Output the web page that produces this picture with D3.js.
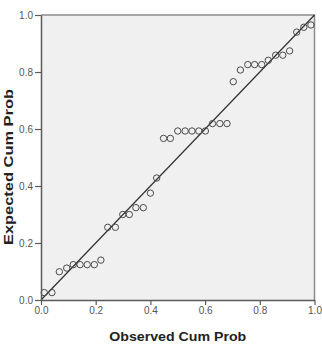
<!DOCTYPE html>
<html>
<head>
<meta charset="utf-8">
<script src="https://cdn.jsdelivr.net/npm/d3@7"></script>
<style>
  body { margin: 0; background: #fff; }
  svg { display: block; font-family: "Liberation Sans", Arial, sans-serif; }
</style>
</head>
<body>
<svg id="chart" width="322" height="347"></svg>
<script>
// observed / expected cumulative probabilities
var observed = [0.012, 0.040, 0.067, 0.094, 0.118, 0.143, 0.169, 0.195, 0.219, 0.244,
                0.272, 0.299, 0.323, 0.347, 0.374, 0.400, 0.423, 0.448, 0.473, 0.500,
                0.527, 0.552, 0.577, 0.601, 0.627, 0.654, 0.680, 0.703, 0.729, 0.756,
                0.781, 0.807, 0.831, 0.858, 0.884, 0.909, 0.935, 0.961, 0.987];
var expected = [0.026, 0.026, 0.099, 0.112, 0.124, 0.124, 0.124, 0.124, 0.140, 0.255,
                0.255, 0.300, 0.300, 0.324, 0.324, 0.375, 0.428, 0.567, 0.567, 0.593,
                0.593, 0.593, 0.593, 0.593, 0.619, 0.619, 0.619, 0.766, 0.807, 0.826,
                0.826, 0.826, 0.841, 0.859, 0.859, 0.874, 0.940, 0.957, 0.965];
var ticks = [0, 0.2, 0.4, 0.6, 0.8, 1.0];
var xTitle = 'Observed Cum Prob';
var yTitle = 'Expected Cum Prob';

// plot box (window.top is read-only, so keep these in one object)
var box = {left: 41, right: 314.5, top: 15, bottom: 300};

var svg = d3.select('#chart');
var x = d3.scaleLinear().domain([0, 1]).range([box.left, box.right]);
var y = d3.scaleLinear().domain([0, 1]).range([box.bottom, box.top]);

// plot area
svg.append('rect')
   .attr('x', box.left).attr('y', box.top)
   .attr('width', box.right - box.left).attr('height', box.bottom - box.top)
   .attr('fill', '#f0f0f0');

// top and right frame lines
svg.append('path')
   .attr('d', 'M' + box.left + ',' + box.top + 'H' + box.right + 'V' + box.bottom)
   .attr('fill', 'none')
   .attr('stroke', '#8c8c8c')
   .attr('stroke-width', 1.5);

// reference diagonal
svg.append('line')
   .attr('x1', x(0)).attr('y1', y(0))
   .attr('x2', x(1)).attr('y2', y(1))
   .attr('stroke', '#303030')
   .attr('stroke-width', 1.2);

// points
svg.append('g')
   .selectAll('circle')
   .data(observed)
   .join('circle')
   .attr('cx', function(d) { return x(d); })
   .attr('cy', function(d, i) { return y(expected[i]); })
   .attr('r', 3.2)
   .attr('fill', 'none')
   .attr('stroke', '#4a4a4a')
   .attr('stroke-width', 1);

// axes
function styleAxis(g) {
  g.select('.domain').attr('stroke', '#5a5a5a').attr('stroke-width', 1.5);
  g.selectAll('.tick line').attr('stroke', '#5a5a5a').attr('stroke-width', 1.2);
  g.selectAll('.tick text').attr('fill', '#555').attr('font-size', '10px');
}

var xAxis = d3.axisBottom(x).tickValues(ticks).tickFormat(d3.format('.1f'))
              .tickSize(5).tickSizeOuter(0).tickPadding(2);
svg.append('g')
   .attr('transform', 'translate(0,' + box.bottom + ')')
   .call(xAxis)
   .call(styleAxis);

var yAxis = d3.axisLeft(y).tickValues(ticks).tickFormat(d3.format('.1f'))
              .tickSize(6).tickSizeOuter(0).tickPadding(2);
svg.append('g')
   .attr('transform', 'translate(' + box.left + ',0)')
   .call(yAxis)
   .call(styleAxis);

// titles
svg.append('text')
   .attr('x', (box.left + box.right) / 2)
   .attr('y', 341)
   .attr('text-anchor', 'middle')
   .attr('font-size', '13.5px')
   .attr('font-weight', 'bold')
   .attr('fill', '#222')
   .attr('textLength', 137)
   .attr('lengthAdjust', 'spacingAndGlyphs')
   .text(xTitle);

svg.append('text')
   .attr('transform', 'translate(13,167) rotate(-90)')
   .attr('text-anchor', 'middle')
   .attr('font-size', '12px')
   .attr('font-weight', 'bold')
   .attr('fill', '#222')
   .attr('textLength', 156)
   .attr('lengthAdjust', 'spacingAndGlyphs')
   .text(yTitle);
</script>
</body>
</html>
